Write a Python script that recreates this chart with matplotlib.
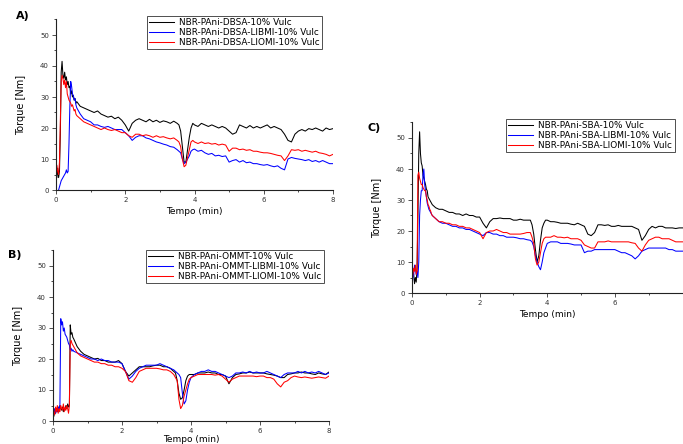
"""Torque curves (rheometer) for three NBR-PAni blends, panels A, B and C."""

import numpy as np
import matplotlib
matplotlib.use('Agg')
import matplotlib.pyplot as plt
from matplotlib.ticker import MultipleLocator, FixedLocator

# common time grid (min), denser at the start and around the dip near 3.7 min
tempo = [0, 0.025, 0.05, 0.075, 0.1, 0.125, 0.15, 0.175, 0.2, 0.225, 0.25, 0.275, 0.3,
         0.325, 0.35, 0.375, 0.4, 0.425, 0.45, 0.475, 0.5, 0.525, 0.55, 0.575, 0.6,
         0.7, 0.8, 0.9, 1.0, 1.1, 1.2, 1.3, 1.4, 1.5, 1.6, 1.7, 1.8, 1.9, 2.0, 2.1, 2.2,
         2.3, 2.4, 2.5, 2.6, 2.7, 2.8, 2.9, 3.0, 3.1, 3.2, 3.3, 3.4, 3.5,
         3.55, 3.6, 3.65, 3.7, 3.75, 3.8, 3.85, 3.9, 3.95, 4.0,
         4.1, 4.2, 4.3, 4.4, 4.5, 4.6, 4.7, 4.8, 4.9, 5.0, 5.1, 5.2, 5.3, 5.4, 5.5, 5.6,
         5.7, 5.8, 5.9, 6.0, 6.1, 6.2, 6.3, 6.4, 6.5, 6.6, 6.7, 6.8, 6.9, 7.0, 7.1, 7.2,
         7.3, 7.4, 7.5, 7.6, 7.7, 7.8, 7.9, 8.0]

nan = np.nan

# ---- A) DBSA
dbsa_vulc = [5, 4, 7, 4, 6, 18, 38, 41.5, 37, 36, 38, 35.5, 36.5, 34, 35, 33, 33.5, 31, 32, 30, 30.5, 29, 29.5, 28, 28.5,
             27, 26.5, 26, 25.5, 25, 25.5, 24.5, 24, 23.5, 23.8, 23, 23.5, 22.5, 21, 19, 21.5, 22.5, 23, 22.5, 22,
             22.8, 22, 22.5, 21.8, 22.3, 22, 21.5, 22.2, 21.5,
             21, 19, 14, 9, 9, 13, 17, 20, 21.5, 21,
             20.5, 21.5, 21, 20.5, 21, 20.5, 20, 20.5, 20, 19, 18, 18.5, 21, 20.5, 20, 20.8, 20, 20.5, 20, 20.5,
             21, 20, 20.5, 20, 19.5, 18, 16, 15.5, 18, 19, 19.5, 19, 19.8, 19.5, 20, 19.5, 19, 20, 19.5, 19.8]
dbsa_libmi = [nan, nan, nan, 0, 1, 2, 3, 3.5, 4, 4.5, 5, 5.5, 6.5, 5.5, 6, 15, 27, 35, 33.5, 31, 30.5, 29, 29.5, 27.5, 26.5,
              24.5, 23, 22.5, 22, 21, 21, 20.5, 20.2, 20.5, 20, 19.5, 19.5, 19.5, 18.5, 17.5, 16, 17, 17.5, 17.5,
              16.8, 16.5, 16, 15.5, 15.2, 14.8, 14.5, 14, 13.8, 13,
              12.5, 12, 10, 8.5, 9, 10, 11, 12.5, 13, 13.2,
              12.5, 12.8, 12, 11.5, 11.8, 11, 11.2, 10.8, 11, 9, 9.5, 9.8, 9, 9.5, 8.8, 9, 8.5, 8.5, 8.2, 8,
              8.2, 7.8, 7.5, 7.8, 7, 6.5, 10, 10.5, 10.2, 10, 9.8, 9.5, 9.8, 9.2, 9.5, 9, 9.5, 9, 8.5, 8.5]
dbsa_liomi = [3, 8, 6, 5, 9, 22, 35, 37, 36, 34, 35.5, 33, 35, 31, 30, 29, 28.5, 28, 27, 27.5, 26.5, 25.5, 26, 24.5, 24,
              23, 22, 21.5, 21, 20.5, 20, 19.5, 20, 19.5, 19.2, 19.5, 19, 18.5, 18.5, 17.5, 17, 18, 18, 17.5,
              17.8, 17.5, 17, 17.5, 17, 17.2, 16.8, 16.5, 16.8, 16,
              15.5, 14, 10, 7.5, 8, 10.5, 13, 15.5, 16, 15.5,
              15, 15.5, 15, 15.2, 14.8, 15, 14.5, 14.8, 14.5, 12.5, 13.5, 13.5, 13, 13.2, 12.8, 13, 12.5, 12.5, 12.2, 12,
              12, 11.8, 11.5, 11.2, 11, 9.5, 11, 13, 12.8, 13, 12.5, 12.8, 12.5, 12.2, 12.5, 12, 11.8, 11.5, 11, 11.5]
labels_a = ['NBR-PAni-DBSA-10% Vulc', 'NBR-PAni-DBSA-LIBMI-10% Vulc', 'NBR-PAni-DBSA-LIOMI-10% Vulc']

# ---- B) OMMT
ommt_vulc = [2, 1.5, 3.5, 2.5, 4, 3, 4.5, 3, 5, 4, 3.5, 4.5, 3, 4, 3.5, 5, 4, 5.5, 4.5, 5, 31, 28, 28.5, 27, 26.5,
             24, 22.5, 21.5, 21, 20.5, 20, 20.2, 19.5, 19.5, 19, 19, 19, 19.5, 18.5, 16, 14.5, 15.5, 16.5, 17.5,
             17.5, 17.5, 17.5, 17.8, 18, 18, 17.5, 17.5, 17, 16,
             15.5, 13, 9, 7, 7.5, 10, 13, 14.5, 15, 15,
             15, 15.5, 15.5, 15.5, 15.8, 15.5, 15.5, 15, 15, 14.5, 12, 14, 15, 15.2, 15.5, 15.5, 15.8, 15.5, 15.5, 15.5,
             15.5, 15.2, 15, 14.8, 14.5, 14, 14, 15, 15.2, 15.5, 15.5, 15.8, 15.5, 15.5, 15.2, 15, 15.5, 15.2, 15, 15.8]
ommt_libmi = [2, 3, 4, 2.5, 4, 3, 4.5, 3.5, 5, 33, 31, 32, 29, 30, 28, 27.5, 27, 26, 25, 24.5, 23, 23.5, 22.5, 23, 22.5,
              22, 21.5, 21, 20.5, 20, 20, 19.5, 20, 19.5, 19.5, 19, 19, 19, 18.5, 16, 13.5, 14.5, 16, 17,
              17.5, 18, 18, 18, 18, 18.5, 18, 17.5, 17, 16.5,
              16, 15.5, 15, 14, 9, 5.5, 6.5, 10, 12.5, 14,
              15, 15.5, 16, 16, 16.5, 16, 16, 15.5, 15, 14.5, 14, 14.5, 15.5, 15.5, 15.8, 15.5, 16, 15.5, 15.8, 15.5,
              15.5, 16, 15.5, 15, 14.5, 14, 15, 15.5, 15.5, 15.5, 16, 15.5, 16, 15.5, 15.8, 15.5, 16, 15.5, 15, 15.5]
ommt_liomi = [2, 3, 2, 4.5, 3, 5, 2.5, 4, 3, 5, 4, 3.5, 5.5, 3, 4.5, 3.5, 5, 4, 2.5, 5, 25, 26, 25, 24.5, 24,
              22, 21, 20.5, 20, 19.5, 19, 19, 18.5, 18.5, 18, 18, 17.5, 17.5, 17, 16, 13, 12.5, 14, 16,
              16.5, 17, 17, 17, 17, 16.8, 16.5, 16.5, 16, 15,
              14, 13, 7, 4, 5, 8, 10, 12, 13.5, 14,
              14.5, 15, 15, 15, 15, 15, 14.8, 15, 14.5, 13.5, 12.5, 13.5, 14, 14.5, 14.5, 14.5, 14.5, 14.5, 14.3, 14.5,
              14.5, 14, 14, 13.5, 12, 11, 12.5, 13, 14, 14.5, 14.2, 14, 14.2, 14, 13.8, 14, 14.2, 14, 13.8, 14.5]
labels_b = ['NBR-PAni-OMMT-10% Vulc', 'NBR-PAni-OMMT-LIBMI-10% Vulc', 'NBR-PAni-OMMT-LIOMI-10% Vulc']

# ---- C) SBA
sba_vulc = [5, 7, 6, 3, 5, 3.5, 8, 25, 45, 52, 45, 42, 41, 38, 37, 36, 35, 33.5, 33, 31, 30.5, 30, 29.5, 29, 28.5,
            27.5, 27, 27, 26.5, 26, 26, 25.5, 25.5, 25, 25.5, 25, 25, 24.5, 24.5, 22.5, 21, 23, 24, 24,
            24.2, 24, 24, 24, 23.5, 23.5, 23.8, 23.5, 23.5, 23.5,
            22, 19, 14, 10, 12, 17, 21, 22.5, 23.5, 23.5,
            23, 23, 22.8, 22.5, 22.5, 22.5, 22.2, 22, 22.5, 22, 21.5, 19, 18.5, 19.5, 22, 22, 21.8, 22, 21.5, 21.5,
            21.8, 21.5, 21.5, 21.5, 21.5, 21, 20.5, 17, 18.5, 20.5, 21.5, 21, 21.5, 21.5, 21, 21, 21, 20.8, 21, 21]
sba_libmi = [2, 5, 6, 9, 8, 6, 7, 5, 10, 25, 30, 33, 33, 38, 40, 35, 33, 31, 29, 28, 27, 26.5, 26, 25.5, 25,
             24, 23, 22.5, 22.5, 22, 21.5, 21.5, 21, 21, 20.5, 20.5, 20, 19.5, 19, 18.5, 19.5, 19.5, 19, 19,
             18.5, 18.5, 18, 18, 18, 17.8, 17.5, 17.5, 17.2, 17,
             16.5, 15, 12, 10, 8.5, 7.5, 10, 13, 14.5, 16,
             16.5, 16.5, 16.5, 16, 16, 16, 15.8, 15.5, 15.5, 15.5, 13, 13.5, 13.5, 14, 14, 14, 14, 14, 14, 14,
             13.5, 13, 13, 12.5, 12, 11, 12, 13.5, 14, 14.5, 14.5, 14.5, 14.5, 14.5, 14.5, 14, 14, 13.5, 13.5, 13.5]
sba_liomi = [4, 6, 8, 7, 9, 6, 7, 38, 39, 37, 36, 35, 35, 34, 33.5, 33, 33, 31, 30, 28.5, 28, 27, 26.5, 25.5, 25,
             24, 23, 23, 22.5, 22.5, 22, 22, 21.5, 21.5, 21, 21, 20.5, 20, 19.5, 17.5, 19.5, 20, 20, 20.5,
             20, 19.5, 19.5, 19, 19, 19, 19, 19.2, 19.5, 19.5,
             18, 16, 11, 9, 10, 13, 16, 17.5, 18, 18,
             18, 18.5, 18, 18, 17.8, 18, 17.5, 17.5, 17.5, 17, 15.5, 15, 14.5, 14.5, 16.5, 16.5, 16.5, 16.8, 16.5, 16.5,
             16.5, 16.5, 16.5, 16.5, 16.2, 16, 14.5, 13.5, 15.5, 17, 17.5, 18, 18, 17.5, 17.5, 17.5, 17, 16.5, 16.5, 16.5]
labels_c = ['NBR-PAni-SBA-10% Vulc', 'NBR-PAni-SBA-LIBMI-10% Vulc', 'NBR-PAni-SBA-LIOMI-10% Vulc']

COLORS = ['#000000', '#0000ff', '#ff0000']
W, H = 683.0, 444.0

plt.rcParams['font.family'] = ['DejaVu Sans']


def draw_panel(fig, box, series, labels, tag, tag_xy, leg_xy, xticks=(0, 2, 4, 6, 8), xpad=3):
    """box = (left, top, right, bottom) in pixels."""
    l, t, r, b = box
    ax = fig.add_axes([l / W, 1 - b / H, (r - l) / W, (b - t) / H])
    for y, c, lab in zip(series, COLORS, labels):
        ax.plot(tempo, y, color=c, lw=0.75, label=lab)
    ax.set_xlim(0, 8)
    ax.set_ylim(0, 55)
    ax.xaxis.set_major_locator(FixedLocator(xticks))
    ax.xaxis.set_minor_locator(MultipleLocator(1))
    ax.yaxis.set_major_locator(MultipleLocator(10))
    ax.yaxis.set_minor_locator(MultipleLocator(5))
    for s in ('top', 'right'):
        ax.spines[s].set_visible(False)
    for s in ('left', 'bottom'):
        ax.spines[s].set_linewidth(0.8)
        ax.spines[s].set_color('#222222')
    ax.tick_params(which='major', direction='out', length=3, width=0.6,
                   labelsize=5, colors='#333333', pad=2)
    ax.tick_params(which='minor', direction='out', length=1.5, width=0.5)
    ax.set_xlabel('Tempo (min)', fontsize=6.5, labelpad=xpad)
    ax.set_ylabel('Torque [Nm]', fontsize=7, labelpad=10)
    fig.text(tag_xy[0] / W, 1 - tag_xy[1] / H, tag, fontsize=8, fontweight='bold',
             ha='left', va='center')
    leg = ax.legend(loc='upper left', bbox_to_anchor=(leg_xy[0] / W, 1 - leg_xy[1] / H),
                    bbox_transform=fig.transFigure, fontsize=6.4, frameon=True, fancybox=False,
                    borderpad=0.25, labelspacing=0.08, handlelength=2.8, handletextpad=0.6,
                    borderaxespad=0)
    leg.get_frame().set_edgecolor('#222222')
    leg.get_frame().set_linewidth(0.7)
    return ax


fig = plt.figure(figsize=(6.83, 4.44), dpi=100)

draw_panel(fig, (56, 19.5, 333, 190), [dbsa_vulc, dbsa_libmi, dbsa_liomi], labels_a,
           'A)', (16, 16), (147, 16))
draw_panel(fig, (53, 250.5, 329, 421), [ommt_vulc, ommt_libmi, ommt_liomi], labels_b,
           'B)', (8, 255), (146, 250), xpad=0.5)
draw_panel(fig, (412, 122.5, 682.5, 293), [sba_vulc, sba_libmi, sba_liomi], labels_c,
           'C)', (367, 128), (506, 119), xticks=(0, 2, 4, 6))

fig.savefig('out.png', dpi=100)
